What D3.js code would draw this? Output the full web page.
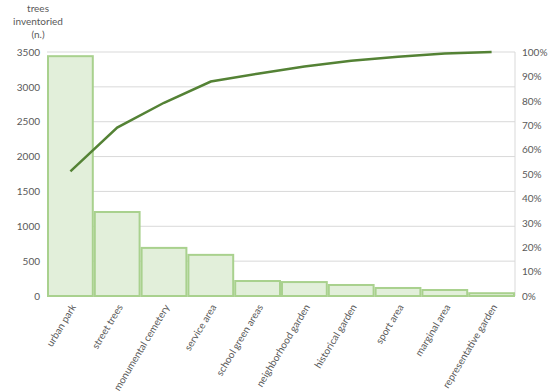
<!DOCTYPE html>
<html>
<head>
<meta charset="utf-8">
<script src="https://cdn.jsdelivr.net/npm/d3@7"></script>
<style>
  body { margin: 0; background: #fff; }
  text { font-family: Lato, "Open Sans", sans-serif; fill: #595959; }
</style>
</head>
<body>
<div id="chart"></div>
<script>
const categories = ['urban park', 'street trees', 'monumental cemetery', 'service area', 'school green areas',
  'neighborhood garden', 'historical garden', 'sport area', 'marginal area', 'representative garden'];
const trees = [3440, 1205, 690, 590, 215, 200, 158, 115, 86, 40];
const cumulativePct = [51.1, 69.0, 79.2, 87.9, 91.1, 94.1, 96.4, 98.1, 99.4, 100];
const leftTicks = [0, 500, 1000, 1500, 2000, 2500, 3000, 3500];
const rightTicks = [0, 10, 20, 30, 40, 50, 60, 70, 80, 90, 100];

const MARGIN = { TOP: 52, BOTTOM: 96, LEFT: 47, RIGHT: 35 };
const WIDTH = 550 - MARGIN.LEFT - MARGIN.RIGHT;
const HEIGHT = 392 - MARGIN.TOP - MARGIN.BOTTOM;

const svg = d3.select('#chart').append('svg')
    .attr('width', 550)
    .attr('height', 392)
  .append('g')
    .attr('transform', `translate(${MARGIN.LEFT}, ${MARGIN.TOP})`);

const x = d3.scaleBand().domain(categories).range([0, WIDTH]).padding(0);
const y = d3.scaleLinear().domain([0, 3500]).range([HEIGHT, 0]);
const yPct = d3.scaleLinear().domain([0, 100]).range([HEIGHT, 0]);

// gridlines
svg.append('g')
  .selectAll('line')
  .data(leftTicks)
  .enter().append('line')
    .attr('x1', 0).attr('x2', WIDTH)
    .attr('y1', d => y(d)).attr('y2', d => y(d))
    .attr('stroke', '#d9d9d9').attr('stroke-width', 1);

svg.append('line')
  .attr('x1', WIDTH).attr('x2', WIDTH)
  .attr('y1', 0).attr('y2', HEIGHT)
  .attr('stroke', '#d9d9d9');

// bars
svg.selectAll('rect.bar')
  .data(trees)
  .enter().append('rect')
    .attr('class', 'bar')
    .attr('x', (d, i) => x(categories[i]) + 1)
    .attr('width', x.bandwidth() - 2)
    .attr('y', d => y(d))
    .attr('height', d => HEIGHT - y(d))
    .attr('fill', '#e2efda')
    .attr('stroke', '#a9d18e')
    .attr('stroke-width', 2);

// cumulative line
const line = d3.line()
  .x((d, i) => x(categories[i]) + x.bandwidth() / 2)
  .y(d => yPct(d));

svg.append('path')
  .datum(cumulativePct)
  .attr('d', line)
  .attr('fill', 'none')
  .attr('stroke', '#548235')
  .attr('stroke-width', 2.5);

// left axis
const yAxis = svg.append('g')
  .call(d3.axisLeft(y).tickValues(leftTicks).tickFormat(d3.format('d')).tickSize(0).tickPadding(7));
yAxis.select('.domain').remove();
yAxis.selectAll('text').style('font-size', '10px').attr('fill', '#595959');

// right axis
const yAxisR = svg.append('g')
  .attr('transform', `translate(${WIDTH}, 0)`)
  .call(d3.axisRight(yPct).tickValues(rightTicks).tickFormat(d => d + '%').tickSize(0).tickPadding(7));
yAxisR.select('.domain').remove();
yAxisR.selectAll('text').style('font-size', '10px').attr('fill', '#595959');

// x labels
const xAxis = svg.append('g')
  .attr('transform', `translate(0, ${HEIGHT})`)
  .call(d3.axisBottom(x).tickSize(0).tickPadding(0));
xAxis.select('.domain').remove();
xAxis.selectAll('text')
  .style('font-size', '10px')
  .attr('fill', '#595959')
  .attr('text-anchor', 'end')
  .attr('dy', 0)
  .attr('y', 0)
  .attr('transform', 'translate(6, 11) rotate(-59)');

// y title
svg.append('text')
  .attr('x', -9)
  .attr('y', -MARGIN.TOP + 12)
  .attr('text-anchor', 'middle')
  .style('font-size', '10px')
  .selectAll('tspan')
  .data(['trees', 'inventoried', '(n.)'])
  .enter().append('tspan')
    .attr('x', -9)
    .attr('dy', (d, i) => i === 0 ? 0 : 13)
    .text(d => d);
</script>
</body>
</html>
